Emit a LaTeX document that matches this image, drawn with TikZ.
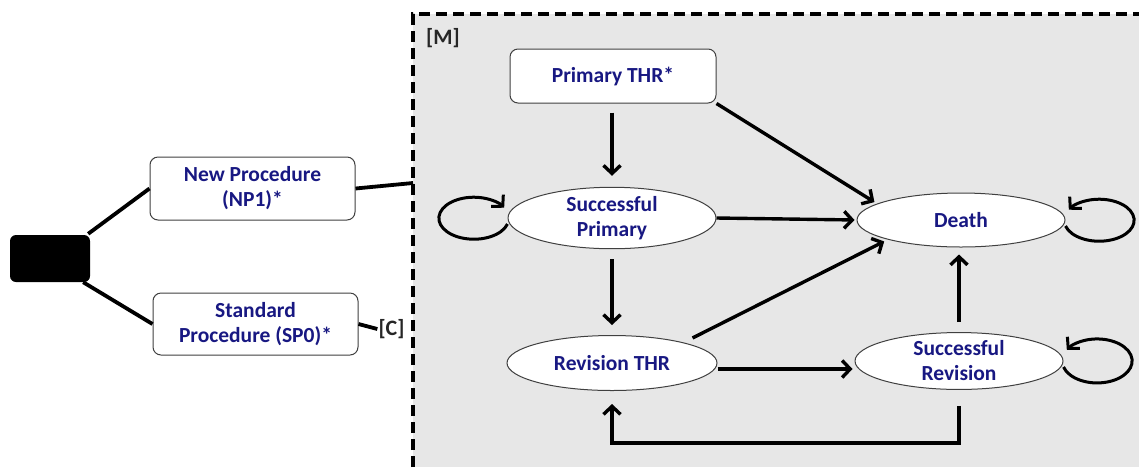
\documentclass[tikz,border=0pt]{standalone}
\usepackage{fontspec}
\setmainfont{Carlito}
\usetikzlibrary{arrows.meta,shapes.geometric}
\definecolor{txtblue}{RGB}{24,24,130}
\definecolor{panel}{RGB}{231,231,231}
\tikzset{
  lbl/.style={font=\fontsize{21.5}{25}\selectfont\bfseries, text=txtblue, align=center},
  tag/.style={font=\fontsize{22}{26}\selectfont\bfseries, text=black!85, inner sep=1pt},
  rbox/.style={lbl, draw=black!75, line width=1pt, fill=white, rounded corners=8pt, inner sep=0pt},
  ell/.style={lbl, ellipse, draw=black!75, line width=1pt, fill=white, inner sep=0pt},
  arr/.style={line width=3.4pt, -{Straight Barb[length=8pt,width=17pt]}},
  tree/.style={line width=3.8pt},
}
\begin{document}
\begin{tikzpicture}[x=1pt,y=-1pt]
\useasboundingbox (0,0) rectangle (1139,467);
% panel
\fill[panel] (413,14) rectangle (1139,467);
\draw[line width=3.6pt, dash pattern=on 11pt off 6pt] (413,467) -- (413,14) -- (1139,14);
\node[tag] (M) at (443,38) {[M]};
% left tree
\node[fill=black, rounded corners=6pt, minimum width=80pt, minimum height=47pt, inner sep=0pt] (dec) at (50,258.5) {};
\node[rbox, minimum width=205pt, minimum height=63pt] (np) at (252.5,188.5) {New Procedure\\(NP1)*};
\node[rbox, minimum width=205pt, minimum height=62pt] (sp) at (255.5,324) {Standard\\Procedure (SP0)*};
\node[tag] (C) at (391.5,329) {[C]};
\coordinate (border) at (413,183);
\draw[tree] ([xshift=-2pt,yshift=1pt]dec.north east) -- (np.west);
\draw[tree] ([xshift=-7pt]dec.south east) -- (sp.west);
\draw[tree] (np.east) -- (border);
\draw[tree] (sp.east) -- (C.west);
% states
\node[rbox, minimum width=206pt, minimum height=54pt] (pthr) at (613,76) {Primary THR*};
\node[ell, minimum width=208pt, minimum height=51pt] (sprim) at (612,218) {Successful\\Primary};
\node[ell, minimum width=208pt, minimum height=54pt] (death) at (961,220) {Death};
\node[ell, minimum width=210pt, minimum height=55pt] (rthr) at (612,363) {Revision THR};
\node[ell, minimum width=208pt, minimum height=55pt] (srev) at (959,361) {Successful\\Revision};
% transitions
\draw[arr, shorten <=9pt, shorten >=11pt] (pthr.south -| sprim.north) -- (sprim.north);
\draw[arr, shorten >=3pt] (pthr.south east) -- (death.169);
\draw[arr, shorten >=2pt] (sprim.east) -- (death.west);
\draw[arr, shorten <=10pt, shorten >=4pt] (rthr.16) -- (death.195);
\draw[arr, shorten <=10pt, shorten >=10pt] (sprim.south) -- (rthr.north);
\draw[arr, shorten >=2pt] ([yshift=-6pt]rthr.east) -- ([yshift=-8pt]srev.west);
\draw[arr, shorten <=10pt, shorten >=7pt] (srev.north) -- (srev.north |- death.south);
\draw[arr, shorten >=13pt] ([yshift=-16pt]srev.south) |- (612,443) -- (rthr.south);
% self loops
\draw[arr, line width=3pt] ([yshift=-6pt]death.east) arc[start angle=196, end angle=510, x radius=35pt, y radius=21pt];
\draw[arr, line width=3pt] ([yshift=-6pt]srev.east) arc[start angle=196, end angle=510, x radius=35pt, y radius=22pt];
\draw[arr, line width=3pt] ([yshift=-6pt]sprim.west) arc[start angle=-16, end angle=-330, x radius=35pt, y radius=21pt];
\end{tikzpicture}
\end{document}
